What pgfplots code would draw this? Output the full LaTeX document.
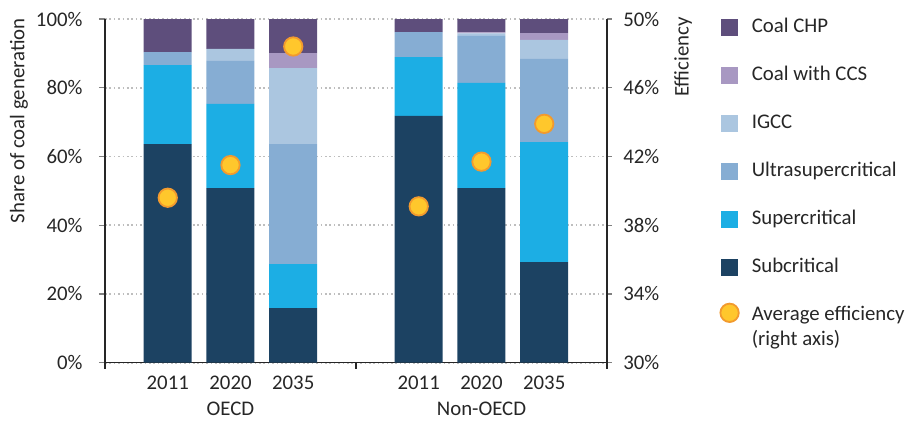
\documentclass[border=0pt]{standalone}
\usepackage{fontspec}
\setmainfont{Carlito}
\usepackage{pgfplots}
\usepackage{pgfplotstable}
\pgfplotsset{compat=1.18}

\definecolor{chp}{RGB}{94,78,124}
\definecolor{ccs}{RGB}{168,152,194}
\definecolor{igcc}{RGB}{171,198,224}
\definecolor{ultra}{RGB}{134,173,211}
\definecolor{supc}{RGB}{28,174,228}
\definecolor{subc}{RGB}{28,66,98}
\definecolor{dotfill}{RGB}{255,199,44}
\definecolor{dotedge}{RGB}{242,154,46}
\definecolor{gridc}{RGB}{190,190,190}
\definecolor{txt}{RGB}{38,38,38}

\pgfplotsset{
  dotlegend/.style={legend image code/.code={\path[draw=none, fill=none] (0pt,-12pt) rectangle (8pt,12pt);
    \draw[##1] plot coordinates {(4pt,7.2pt)};}},
}

% share of coal generation (%) and average efficiency (%)
\pgfplotstableread{
x sub super ultra igcc ccs chp eff
0 63.6 23.0 3.8 0 0 9.6 39.6
1 50.8 24.5 12.5 3.5 0 8.7 41.5
2 15.9 12.8 34.9 22.1 4.4 9.9 48.4
4 71.8 17.1 7.3 0 0 3.8 39.1
5 50.8 30.6 13.7 0.7 0.3 3.9 41.7
6 29.3 34.9 24.2 5.5 2.0 4.1 43.9
}\coaldata

\begin{document}
\fontsize{10.4}{12.5}\selectfont\color{txt}
\begin{tikzpicture}
\begin{axis}[
  scale only axis, width=251pt, height=171.85pt,
  xmin=-1, xmax=7, ymin=0, ymax=100,
  axis x line*=bottom, axis y line*=left,
  axis line style={line width=0.65pt},
  ybar stacked, bar width=24pt,
  xtick={0,1,2,4,5,6}, xticklabels={2011,2020,2035,2011,2020,2035},
  xtick style={draw=none},
  extra x ticks={-1,3,7}, extra x tick labels={},
  extra x tick style={grid=none, xtick style={draw=txt, line width=0.65pt}},
  ytick={0,20,...,100},
  yticklabel={\pgfmathprintnumber{\tick}\%},
  /pgf/number format/assume math mode=true,
  yticklabel style={xshift=-4.6pt},
  major tick length=3pt, tick align=outside,
  tick style={line width=0.65pt},
  ymajorgrids, grid style={gridc, line width=0.8pt, dash pattern=on 0.8pt off 1.4pt},
  clip=false,
]
\addplot[fill=subc, draw=none] table[x=x, y=sub] {\coaldata};
\addplot[fill=supc, draw=none] table[x=x, y=super] {\coaldata};
\addplot[fill=ultra, draw=none] table[x=x, y=ultra] {\coaldata};
\addplot[fill=igcc, draw=none] table[x=x, y=igcc] {\coaldata};
\addplot[fill=ccs, draw=none] table[x=x, y=ccs] {\coaldata};
\addplot[fill=chp, draw=none] table[x=x, y=chp] {\coaldata};

\node[anchor=base, inner sep=0pt] at ([yshift=-26.4pt]axis cs:1,0) {OECD};
\node[anchor=base, inner sep=0pt] at ([yshift=-26.4pt]axis cs:5,0) {Non-OECD};
\node[rotate=90, anchor=east] at ([xshift=-43pt, yshift=4pt]rel axis cs:0,1) {Share of coal generation};
\node[rotate=90, anchor=east] at ([xshift=38pt, yshift=4.5pt]rel axis cs:1,1) {Efficiency};
\end{axis}

\begin{axis}[
  scale only axis, width=251pt, height=171.85pt,
  xmin=-1, xmax=7, ymin=30, ymax=50,
  axis x line=none, axis y line*=right,
  axis line style={line width=0.65pt},
  ytick={30,34,...,50},
  yticklabel={\pgfmathprintnumber{\tick}\%},
  /pgf/number format/assume math mode=true,
  yticklabel style={xshift=2pt},
  major tick length=2.5pt, tick align=outside,
  tick style={line width=0.65pt},
  clip=false,
  legend cell align=left,
  legend style={draw=none, fill=none, inner sep=0pt, row sep=12.3pt,
    column sep=5.5pt, nodes={inner sep=1pt},
    at={(axis description cs:1.2251,1.0122)}, anchor=north west},
]
\addlegendimage{legend image code/.code={\fill[chp] (0pt,-4pt) rectangle (8pt,4pt);}}
\addlegendentry[text height=7.5pt, text depth=2.2pt]{Coal CHP}
\addlegendimage{legend image code/.code={\fill[ccs] (0pt,-4pt) rectangle (8pt,4pt);}}
\addlegendentry[text height=7.5pt, text depth=2.2pt]{Coal with CCS}
\addlegendimage{legend image code/.code={\fill[igcc] (0pt,-4pt) rectangle (8pt,4pt);}}
\addlegendentry[text height=7.5pt, text depth=2.2pt]{IGCC}
\addlegendimage{legend image code/.code={\fill[ultra] (0pt,-4pt) rectangle (8pt,4pt);}}
\addlegendentry[text height=7.5pt, text depth=2.2pt]{Ultrasupercritical}
\addlegendimage{legend image code/.code={\fill[supc] (0pt,-4pt) rectangle (8pt,4pt);}}
\addlegendentry[text height=7.5pt, text depth=2.2pt]{Supercritical}
\addlegendimage{legend image code/.code={\fill[subc] (0pt,-4pt) rectangle (8pt,4pt);}}
\addlegendentry[text height=7.5pt, text depth=2.2pt]{Subcritical}

\addplot[only marks, mark=*, mark size=4.6pt,
  mark options={fill=dotfill, draw=dotedge, line width=0.9pt}, dotlegend]
  table[x=x, y=eff] {\coaldata};
\addlegendentry[align=left]{Average efficiency\\(right axis)}
\end{axis}

\pgfresetboundingbox
\path (-52.5pt,-28.65pt) rectangle (404.5pt,181.35pt);
\end{tikzpicture}
\end{document}
